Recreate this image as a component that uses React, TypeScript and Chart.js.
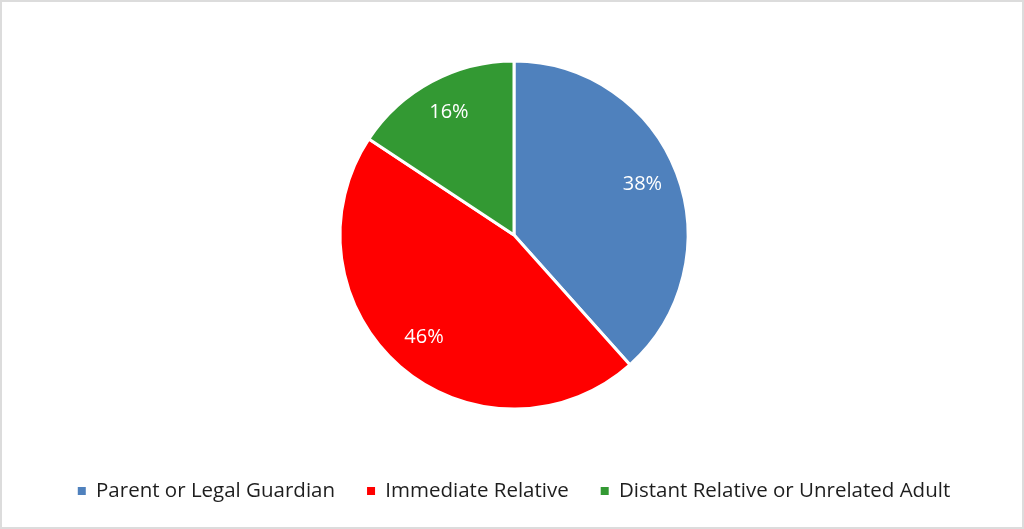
import React, { useEffect, useRef } from "react";
import { Chart, registerables } from "chart.js";

Chart.register(...registerables);

const categories = ["Parent or Legal Guardian", "Immediate Relative", "Distant Relative or Unrelated Adult"];
const shares = [38.4, 45.9, 15.7];
const sliceColors = ["#4F81BD", "#FF0000", "#339933"];

const FONT = "'Open Sans', 'Noto Sans', sans-serif";

const pieLabels = {
  id: "pieLabels",
  afterDatasetsDraw(chart: any) {
    const { ctx } = chart;
    const meta = chart.getDatasetMeta(0);
    const data = chart.data.datasets[0].data as number[];
    const total = data.reduce((a, b) => a + b, 0);
    ctx.save();
    ctx.fillStyle = "#ffffff";
    ctx.font = `20px ${FONT}`;
    ctx.textAlign = "center";
    ctx.textBaseline = "middle";
    meta.data.forEach((arc: any, i: number) => {
      const { x, y, startAngle, endAngle, outerRadius } = arc.getProps(
        ["x", "y", "startAngle", "endAngle", "outerRadius"],
        true
      );
      const mid = (startAngle + endAngle) / 2;
      const r = outerRadius * 0.79;
      const pct = Math.round((data[i] / total) * 100) + "%";
      ctx.fillText(pct, x + Math.cos(mid) * r, y + Math.sin(mid) * r - 2);
    });
    ctx.restore();
  },
};

export default function App() {
  const ref = useRef<HTMLCanvasElement | null>(null);
  useEffect(() => {
    if (!ref.current) return;
    const chart = new Chart(ref.current, {
      type: "pie",
      data: {
        labels: categories,
        datasets: [
          {
            data: shares,
            backgroundColor: sliceColors,
            borderColor: "#ffffff",
            borderWidth: 3,
            radius: 174,
          } as any,
        ],
      },
      options: {
        animation: false,
        responsive: false,
        maintainAspectRatio: false,
        layout: { padding: { top: 19.25, bottom: 15.75, left: 4, right: 0 } },
        plugins: {
          tooltip: { enabled: false },
          legend: {
            position: "bottom",
            labels: {
              boxWidth: 8,
              boxHeight: 8,
              padding: 32,
              color: "#1e1e1e",
              font: { family: FONT, size: 20.5 },
              generateLabels(chart: any) {
                const items = Chart.overrides.pie.plugins.legend.labels.generateLabels(chart);
                return items.map((it: any) => ({ ...it, lineWidth: 0, strokeStyle: it.fillStyle }));
              },
            },
          },
        },
      },
      plugins: [pieLabels],
    });
    return () => chart.destroy();
  }, []);
  return (
    <div
      style={{
        position: "fixed",
        left: 0,
        top: 0,
        width: 1024,
        height: 529,
        boxSizing: "border-box",
        border: "2px solid #dcdcdc",
        background: "#ffffff",
      }}
    >
      <canvas ref={ref} width={1020} height={525} style={{ display: "block", width: 1020, height: 525 }} />
    </div>
  );
}
